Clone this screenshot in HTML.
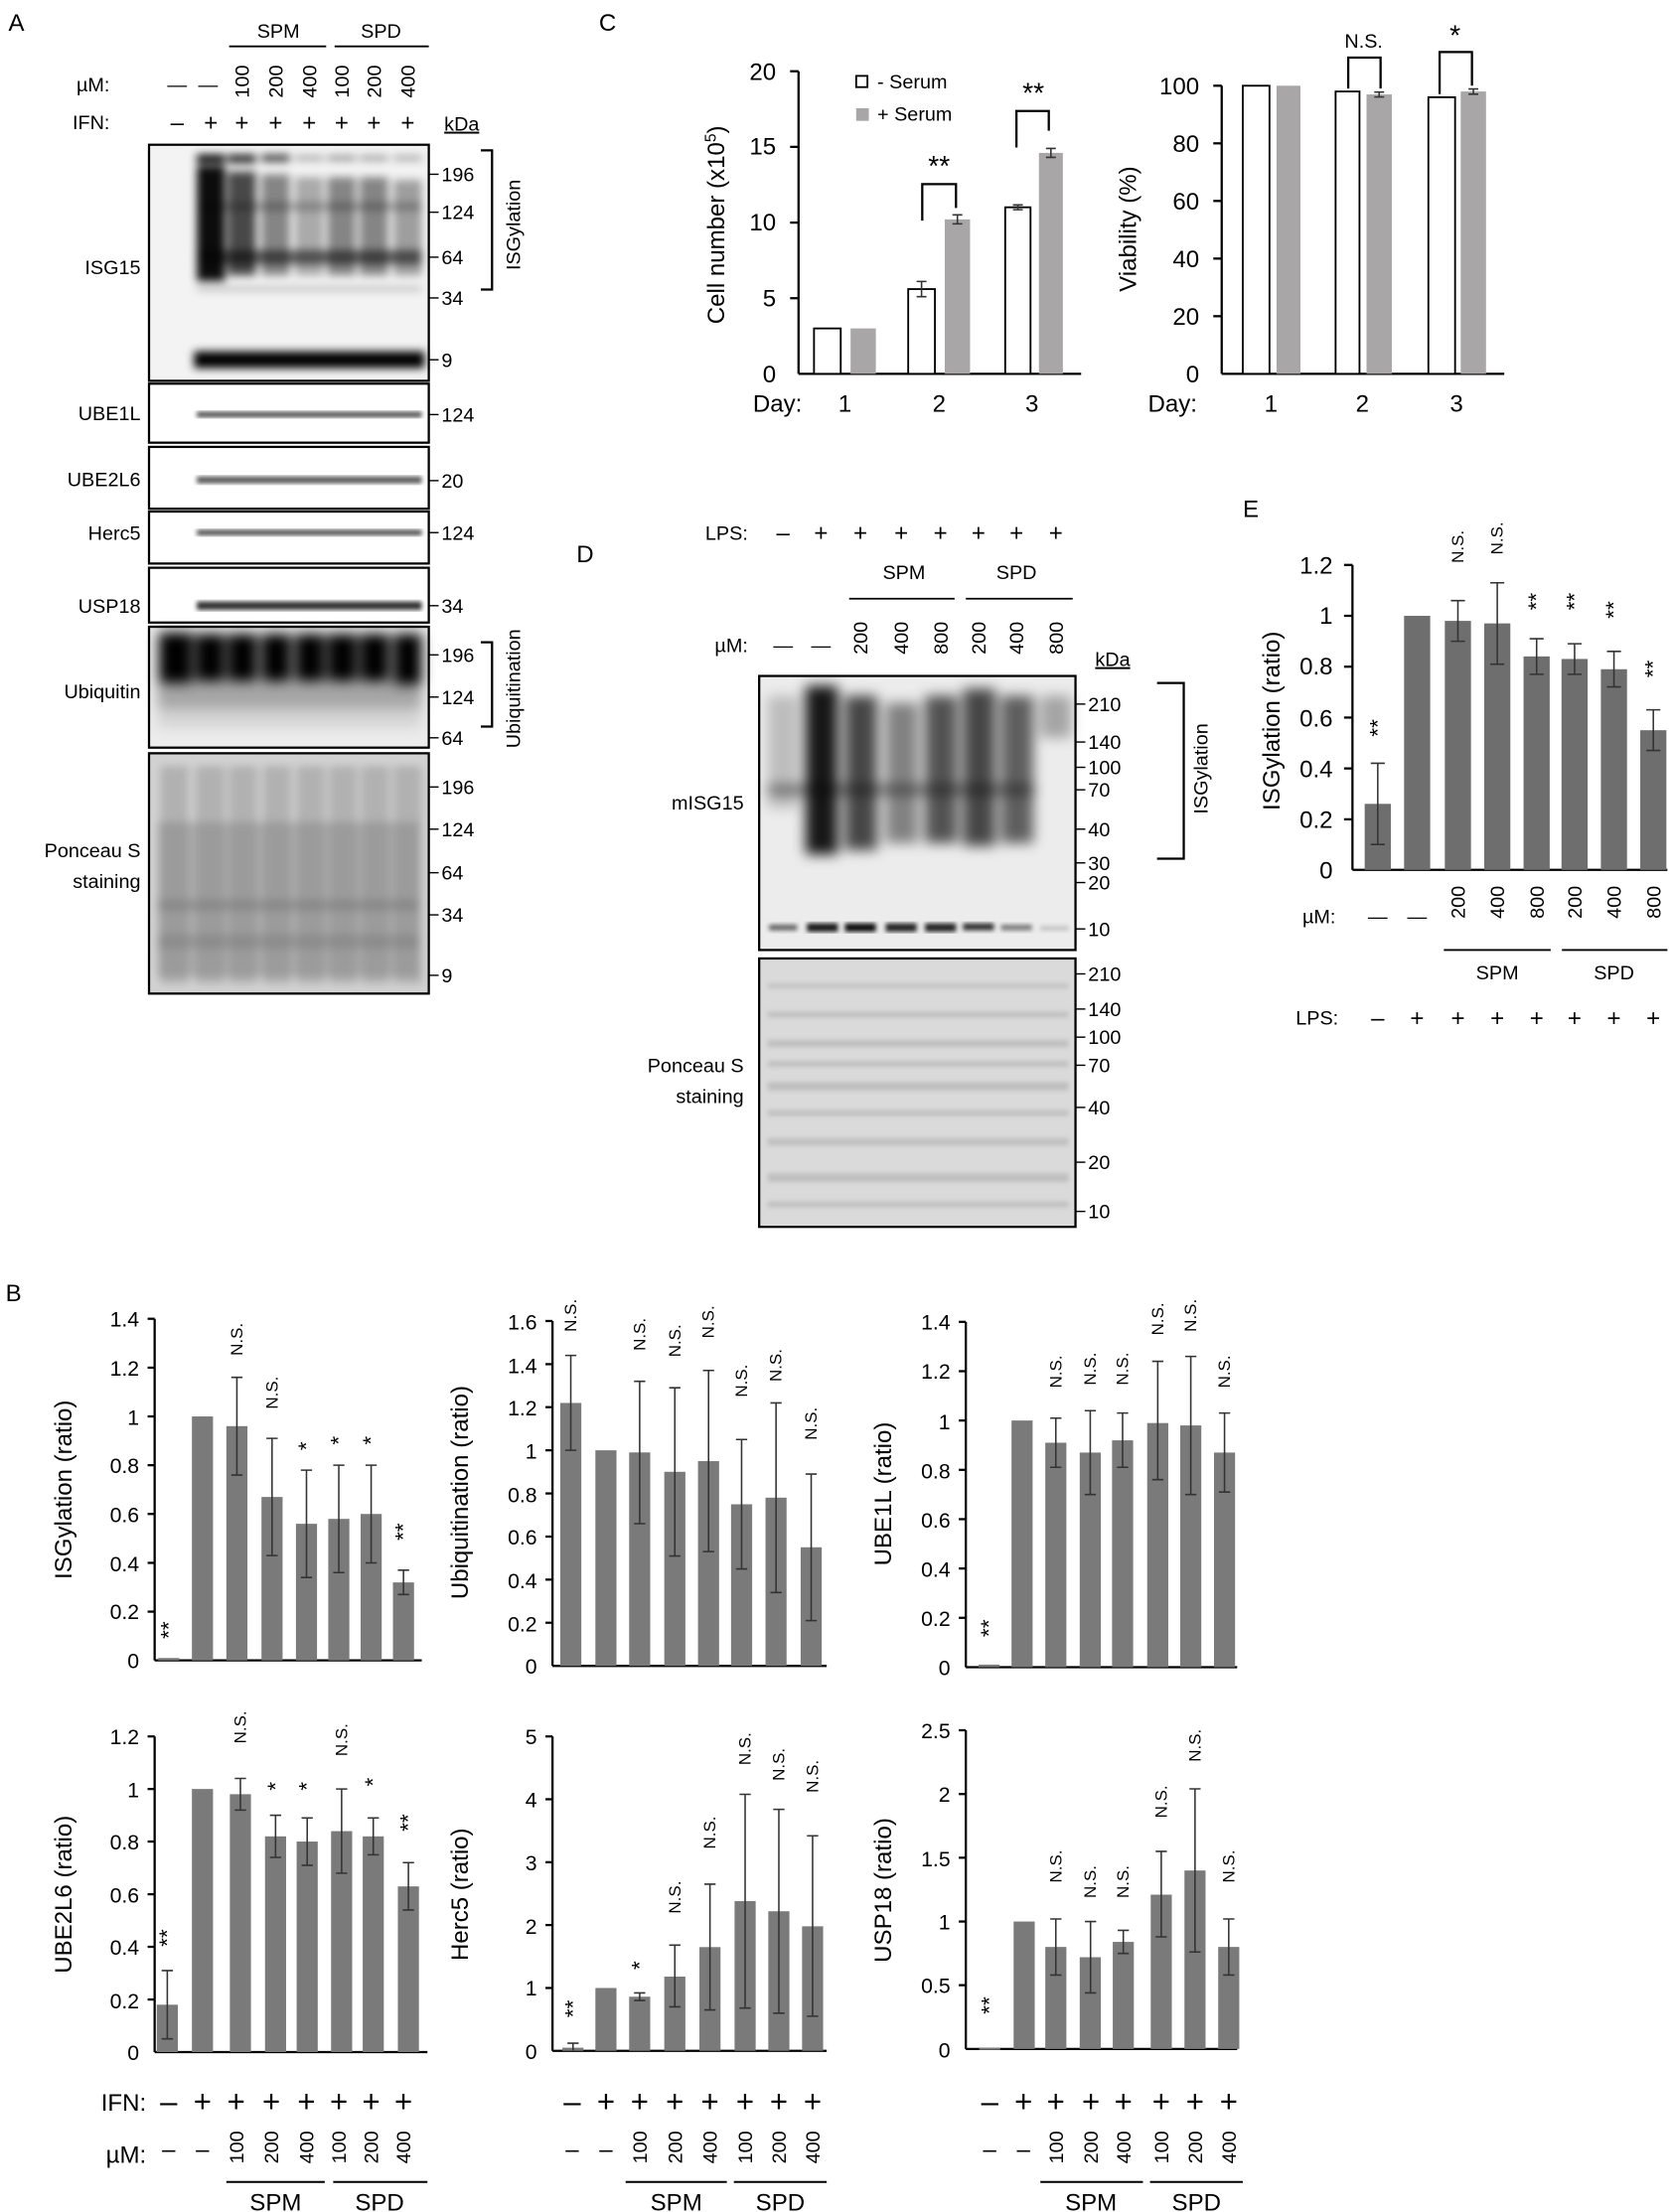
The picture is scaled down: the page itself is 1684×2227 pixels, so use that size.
<!DOCTYPE html>
<html><head><meta charset="utf-8"><style>
html,body{margin:0;padding:0;background:#fff;}
svg{display:block;}
text{font-family:"Liberation Sans",sans-serif;fill:#000;}
.t{font-size:14px;}
.m{font-size:14px;}
.tk{font-size:15px;}
.an{font-size:12px;}
.st{font-size:17px;}
.ax{stroke:#000;stroke-width:1.6;fill:none;}
.eb{stroke:#333;stroke-width:1.1;fill:none;}
.bB{fill:#7a7a7a;}
.bE{fill:#6e6e6e;}
</style></head><body>
<svg width="1684" height="2227" viewBox="0 0 1190 1574" preserveAspectRatio="none" xmlns="http://www.w3.org/2000/svg">
<defs>
<filter id="f1" x="-20%" y="-20%" width="140%" height="140%"><feGaussianBlur stdDeviation="1.6"/></filter>
<filter id="f2" x="-20%" y="-20%" width="140%" height="140%"><feGaussianBlur stdDeviation="3"/></filter>
<filter id="f3" x="-30%" y="-30%" width="160%" height="160%"><feGaussianBlur stdDeviation="4.5"/></filter>
</defs>

<!-- ================= PANEL A ================= -->
<text x="6" y="22" style="font-size:17px">A</text>
<text x="198" y="27" class="t" text-anchor="middle">SPM</text>
<line x1="163" y1="33" x2="232" y2="33" stroke="#000" stroke-width="1.3"/>
<text x="271" y="27" class="t" text-anchor="middle">SPD</text>
<line x1="238" y1="33" x2="305" y2="33" stroke="#000" stroke-width="1.3"/>
<text x="78" y="65" class="t" text-anchor="end">µM:</text>
<text x="126" y="65" class="t" text-anchor="middle">—</text>
<text x="148" y="65" class="t" text-anchor="middle">—</text>
<g class="t" text-anchor="middle">
<text transform="translate(177,58) rotate(-90)">100</text>
<text transform="translate(201,58) rotate(-90)">200</text>
<text transform="translate(225,58) rotate(-90)">400</text>
<text transform="translate(248,58) rotate(-90)">100</text>
<text transform="translate(271,58) rotate(-90)">200</text>
<text transform="translate(295,58) rotate(-90)">400</text>
</g>
<text x="78" y="92" class="t" text-anchor="end">IFN:</text>
<g class="t" text-anchor="middle" style="font-size:17px">
<text x="126" y="93">–</text><text x="150" y="93">+</text><text x="172" y="93">+</text><text x="196" y="93">+</text><text x="220" y="93">+</text><text x="243" y="93">+</text><text x="266" y="93">+</text><text x="290" y="93">+</text>
</g>
<text x="316" y="93" class="t" style="text-decoration:underline">kDa</text>

<!-- ISG15 blot -->
<rect x="106" y="103" width="199" height="168" fill="#f3f3f3"/>
<g filter="url(#f2)">
<rect x="140" y="110" width="20" height="6" fill="#000"/>
<rect x="162" y="110" width="20" height="6" fill="#000" opacity=".85"/>
<rect x="186" y="110" width="20" height="5" fill="#000" opacity=".75"/>
<rect x="210" y="111" width="20" height="3" fill="#000" opacity=".4"/>
<rect x="233" y="111" width="20" height="3" fill="#000" opacity=".5"/>
<rect x="256" y="111" width="20" height="3" fill="#000" opacity=".45"/>
<rect x="280" y="111" width="20" height="3" fill="#000" opacity=".4"/>
<rect x="140" y="118" width="20" height="82" fill="#000" opacity=".95"/>
<rect x="162" y="122" width="20" height="74" fill="#000" opacity=".7"/>
<rect x="186" y="124" width="20" height="72" fill="#000" opacity=".45"/>
<rect x="210" y="126" width="20" height="70" fill="#000" opacity=".3"/>
<rect x="233" y="126" width="20" height="70" fill="#000" opacity=".45"/>
<rect x="256" y="126" width="20" height="70" fill="#000" opacity=".45"/>
<rect x="280" y="128" width="20" height="68" fill="#000" opacity=".35"/>
<rect x="140" y="178" width="160" height="10" fill="#000" opacity=".55"/>
<rect x="140" y="144" width="160" height="6" fill="#000" opacity=".25"/>
<rect x="140" y="204" width="160" height="3" fill="#000" opacity=".25"/>
<rect x="138" y="250" width="164" height="12" fill="#000"/>
</g>
<rect x="106" y="103" width="199" height="168" class="ax"/>
<text x="100" y="195" class="t" text-anchor="end">ISG15</text>
<g class="m">
<line x1="305" y1="124" x2="312" y2="124" stroke="#000"/><text x="314" y="129">196</text>
<line x1="305" y1="151" x2="312" y2="151" stroke="#000"/><text x="314" y="156">124</text>
<line x1="305" y1="183" x2="312" y2="183" stroke="#000"/><text x="314" y="188">64</text>
<line x1="305" y1="212" x2="312" y2="212" stroke="#000"/><text x="314" y="217">34</text>
<line x1="305" y1="256" x2="312" y2="256" stroke="#000"/><text x="314" y="261">9</text>
</g>
<polyline points="342,107 350,107 350,206 342,206" class="ax" stroke-width="1.2"/>
<text transform="translate(370,160) rotate(-90)" class="t" text-anchor="middle">ISGylation</text>

<!-- UBE1L -->
<rect x="106" y="273" width="199" height="42" fill="#f2f2f2" class="ax"/>
<rect x="140" y="293" width="160" height="4" fill="#000" opacity=".7" filter="url(#f1)"/>
<text x="100" y="299" class="t" text-anchor="end">UBE1L</text>
<line x1="305" y1="295" x2="312" y2="295" stroke="#000"/><text x="314" y="300" class="m">124</text>
<!-- UBE2L6 -->
<rect x="106" y="318" width="199" height="44" fill="#f2f2f2" class="ax"/>
<rect x="140" y="339" width="160" height="5" fill="#000" opacity=".65" filter="url(#f1)"/>
<text x="100" y="346" class="t" text-anchor="end">UBE2L6</text>
<line x1="305" y1="342" x2="312" y2="342" stroke="#000"/><text x="314" y="347" class="m">20</text>
<!-- Herc5 -->
<rect x="106" y="364" width="199" height="37" fill="#e2e2e2" class="ax"/>
<rect x="140" y="377" width="160" height="4" fill="#000" opacity=".7" filter="url(#f1)"/>
<text x="100" y="384" class="t" text-anchor="end">Herc5</text>
<line x1="305" y1="379" x2="312" y2="379" stroke="#000"/><text x="314" y="384" class="m">124</text>
<!-- USP18 -->
<rect x="106" y="404" width="199" height="39" fill="#f2f2f2" class="ax"/>
<rect x="140" y="428" width="160" height="6" fill="#000" opacity=".8" filter="url(#f1)"/>
<text x="100" y="436" class="t" text-anchor="end">USP18</text>
<line x1="305" y1="431" x2="312" y2="431" stroke="#000"/><text x="314" y="436" class="m">34</text>
<!-- Ubiquitin -->
<rect x="106" y="446" width="199" height="86" fill="#ececec"/>
<g filter="url(#f3)">
<rect x="113" y="450" width="24" height="36" fill="#000"/>
<rect x="139" y="451" width="21" height="34" fill="#000"/>
<rect x="162" y="451" width="21" height="34" fill="#000"/>
<rect x="186" y="451" width="21" height="34" fill="#000"/>
<rect x="210" y="451" width="21" height="34" fill="#000"/>
<rect x="233" y="451" width="21" height="34" fill="#000"/>
<rect x="256" y="451" width="21" height="34" fill="#000"/>
<rect x="280" y="451" width="20" height="36" fill="#000"/>
<rect x="112" y="486" width="188" height="18" fill="#000" opacity=".3"/>
<rect x="112" y="504" width="188" height="14" fill="#000" opacity=".1"/>
</g>
<rect x="106" y="446" width="199" height="86" class="ax"/>
<text x="100" y="497" class="t" text-anchor="end">Ubiquitin</text>
<g class="m">
<line x1="305" y1="466" x2="312" y2="466" stroke="#000"/><text x="314" y="471">196</text>
<line x1="305" y1="496" x2="312" y2="496" stroke="#000"/><text x="314" y="501">124</text>
<line x1="305" y1="525" x2="312" y2="525" stroke="#000"/><text x="314" y="530">64</text>
</g>
<polyline points="342,457 350,457 350,517 342,517" class="ax" stroke-width="1.2"/>
<text transform="translate(370,490) rotate(-90)" class="t" text-anchor="middle">Ubiquitination</text>
<!-- Ponceau A -->
<rect x="106" y="536" width="199" height="171" fill="#d2d2d2"/>
<g filter="url(#f2)">
<rect x="114" y="545" width="20" height="155" fill="#8a8a8a" opacity=".45"/>
<rect x="139" y="545" width="21" height="155" fill="#8a8a8a" opacity=".45"/>
<rect x="163" y="545" width="20" height="155" fill="#8a8a8a" opacity=".45"/>
<rect x="187" y="545" width="20" height="155" fill="#8a8a8a" opacity=".45"/>
<rect x="211" y="545" width="20" height="155" fill="#8a8a8a" opacity=".45"/>
<rect x="234" y="545" width="20" height="155" fill="#8a8a8a" opacity=".45"/>
<rect x="257" y="545" width="20" height="155" fill="#8a8a8a" opacity=".45"/>
<rect x="280" y="545" width="20" height="155" fill="#8a8a8a" opacity=".45"/>
<rect x="112" y="585" width="186" height="110" fill="#7a7a7a" opacity=".4"/>
<rect x="112" y="640" width="186" height="8" fill="#666" opacity=".35"/>
<rect x="112" y="665" width="186" height="10" fill="#666" opacity=".3"/>
</g>
<rect x="106" y="536" width="199" height="171" class="ax"/>
<text x="100" y="610" class="t" text-anchor="end">Ponceau S</text>
<text x="100" y="632" class="t" text-anchor="end">staining</text>
<g class="m">
<line x1="305" y1="560" x2="312" y2="560" stroke="#000"/><text x="314" y="565">196</text>
<line x1="305" y1="590" x2="312" y2="590" stroke="#000"/><text x="314" y="595">124</text>
<line x1="305" y1="621" x2="312" y2="621" stroke="#000"/><text x="314" y="626">64</text>
<line x1="305" y1="651" x2="312" y2="651" stroke="#000"/><text x="314" y="656">34</text>
<line x1="305" y1="694" x2="312" y2="694" stroke="#000"/><text x="314" y="699">9</text>
</g>

<!-- ================= PANEL C ================= -->
<text x="426" y="22" style="font-size:17px">C</text>
<g class="st" text-anchor="end">
<text x="552" y="57">20</text><text x="552" y="110">15</text><text x="552" y="164">10</text><text x="552" y="218">5</text><text x="552" y="272">0</text>
</g>
<g class="ax">
<line x1="568" y1="50.7" x2="568" y2="266"/><line x1="568" y1="266" x2="769" y2="266"/>
<line x1="562" y1="50.7" x2="568" y2="50.7"/><line x1="562" y1="104.5" x2="568" y2="104.5"/><line x1="562" y1="158.4" x2="568" y2="158.4"/><line x1="562" y1="212.2" x2="568" y2="212.2"/>
</g>
<rect x="579" y="233.7" width="19" height="32.3" fill="#fff" stroke="#000" stroke-width="1.3"/>
<rect x="605" y="233.7" width="18" height="32.3" fill="#a8a6a6"/>
<rect x="646" y="205.7" width="19" height="60.3" fill="#fff" stroke="#000" stroke-width="1.3"/>
<rect x="672" y="156.1" width="18" height="109.9" fill="#a8a6a6"/>
<rect x="715" y="147.5" width="18" height="118.5" fill="#fff" stroke="#000" stroke-width="1.3"/>
<rect x="739" y="108.8" width="17" height="157.2" fill="#a8a6a6"/>
<g class="eb">
<path d="M655.5 200.3V211.1M652 200.3h7M652 211.1h7"/>
<path d="M681 152.9V159.3M677.5 152.9h7M677.5 159.3h7"/>
<path d="M724 145.8V149.2M720.5 145.8h7M720.5 149.2h7"/>
<path d="M747.5 105.6V112M744 105.6h7M744 112h7"/>
</g>
<polyline points="656,157 656,131 680,131 680,148" class="ax" stroke-width="1.2"/>
<text x="668" y="125" style="font-size:20px" text-anchor="middle">**</text>
<polyline points="723,105 723,79 746,79 746,93" class="ax" stroke-width="1.2"/>
<text x="735" y="73" style="font-size:20px" text-anchor="middle">**</text>
<rect x="609" y="54" width="8" height="8" fill="#fff" stroke="#000" stroke-width="1.3"/>
<text x="624" y="63" class="t">- Serum</text>
<rect x="609" y="77" width="9" height="9" fill="#a8a6a6"/>
<text x="624" y="86" class="t">+ Serum</text>
<text transform="translate(515,160) rotate(-90)" class="st" text-anchor="middle">Cell number (x10<tspan dy="-6" style="font-size:11px">5</tspan><tspan dy="6">)</tspan></text>
<g class="st" text-anchor="middle">
<text x="553" y="293">Day:</text><text x="601" y="293">1</text><text x="668" y="293">2</text><text x="734" y="293">3</text>
</g>
<g class="st" text-anchor="end">
<text x="853" y="67">100</text><text x="853" y="108">80</text><text x="853" y="149">60</text><text x="853" y="190">40</text><text x="853" y="231">20</text><text x="853" y="272">0</text>
</g>
<g class="ax">
<line x1="869" y1="61" x2="869" y2="266"/><line x1="869" y1="266" x2="1070" y2="266"/>
<line x1="863" y1="61" x2="869" y2="61"/><line x1="863" y1="102" x2="869" y2="102"/><line x1="863" y1="143" x2="869" y2="143"/><line x1="863" y1="184" x2="869" y2="184"/><line x1="863" y1="225" x2="869" y2="225"/>
</g>
<rect x="884" y="61" width="19" height="205" fill="#fff" stroke="#000" stroke-width="1.3"/>
<rect x="908" y="61" width="17" height="205" fill="#a8a6a6"/>
<rect x="950" y="65.1" width="17" height="200.9" fill="#fff" stroke="#000" stroke-width="1.3"/>
<rect x="972" y="67.2" width="18" height="198.8" fill="#a8a6a6"/>
<rect x="1016" y="69.2" width="19" height="196.8" fill="#fff" stroke="#000" stroke-width="1.3"/>
<rect x="1039" y="65.1" width="18" height="200.9" fill="#a8a6a6"/>
<g class="eb">
<path d="M981 65.5V69M977.5 65.5h7M977.5 69h7"/>
<path d="M1048 63.3V67M1044.5 63.3h7M1044.5 67h7"/>
</g>
<polyline points="959,63 959,41 982,41 982,63" class="ax" stroke-width="1.2"/>
<text x="970" y="34" class="t" text-anchor="middle">N.S.</text>
<polyline points="1024,67 1024,37 1047,37 1047,61" class="ax" stroke-width="1.2"/>
<text x="1035" y="32" style="font-size:20px" text-anchor="middle">*</text>
<text transform="translate(808,163) rotate(-90)" class="st" text-anchor="middle">Viability (%)</text>
<g class="st" text-anchor="middle">
<text x="834" y="293">Day:</text><text x="904" y="293">1</text><text x="969" y="293">2</text><text x="1036" y="293">3</text>
</g>

<!-- ================= PANEL D ================= -->
<text x="410" y="400" style="font-size:17px">D</text>
<text x="532" y="384" class="t" text-anchor="end">LPS:</text>
<g class="t" text-anchor="middle" style="font-size:17px">
<text x="557" y="385">–</text><text x="584" y="385">+</text><text x="612" y="385">+</text><text x="641" y="385">+</text><text x="669" y="385">+</text><text x="696" y="385">+</text><text x="723" y="385">+</text><text x="751" y="385">+</text>
</g>
<text x="643" y="412" class="t" text-anchor="middle">SPM</text>
<line x1="604" y1="426" x2="679" y2="426" stroke="#000" stroke-width="1.3"/>
<text x="723" y="412" class="t" text-anchor="middle">SPD</text>
<line x1="687" y1="426" x2="763" y2="426" stroke="#000" stroke-width="1.3"/>
<text x="532" y="464" class="t" text-anchor="end">µM:</text>
<text x="557" y="464" class="t" text-anchor="middle">—</text>
<text x="584" y="464" class="t" text-anchor="middle">—</text>
<g class="t" text-anchor="middle">
<text transform="translate(617,454) rotate(-90)">200</text>
<text transform="translate(646,454) rotate(-90)">400</text>
<text transform="translate(674,454) rotate(-90)">800</text>
<text transform="translate(701,454) rotate(-90)">200</text>
<text transform="translate(728,454) rotate(-90)">400</text>
<text transform="translate(756,454) rotate(-90)">800</text>
</g>
<text x="779" y="474" class="t" style="text-decoration:underline">kDa</text>
<rect x="540" y="481" width="225" height="195" fill="#ececec"/>
<g filter="url(#f3)">
<rect x="546" y="495" width="22" height="80" fill="#000" opacity=".2"/>
<rect x="573" y="488" width="23" height="120" fill="#000" opacity=".9"/>
<rect x="601" y="495" width="23" height="110" fill="#000" opacity=".7"/>
<rect x="630" y="500" width="23" height="100" fill="#000" opacity=".45"/>
<rect x="658" y="495" width="23" height="105" fill="#000" opacity=".65"/>
<rect x="685" y="490" width="23" height="112" fill="#000" opacity=".7"/>
<rect x="712" y="495" width="23" height="105" fill="#000" opacity=".6"/>
<rect x="740" y="495" width="22" height="30" fill="#000" opacity=".3"/>
<rect x="546" y="559" width="190" height="6" fill="#000" opacity=".5"/>
</g>
<g filter="url(#f1)">
<rect x="547" y="658" width="20" height="4" fill="#000" opacity=".6"/>
<rect x="574" y="657" width="22" height="6" fill="#000" opacity=".9"/>
<rect x="601" y="657" width="22" height="6" fill="#000" opacity=".95"/>
<rect x="630" y="657" width="22" height="6" fill="#000" opacity=".85"/>
<rect x="658" y="657" width="22" height="6" fill="#000" opacity=".85"/>
<rect x="685" y="657" width="22" height="5" fill="#000" opacity=".8"/>
<rect x="712" y="658" width="22" height="4" fill="#000" opacity=".5"/>
<rect x="740" y="659" width="20" height="3" fill="#000" opacity=".2"/>
</g>
<rect x="540" y="481" width="225" height="195" class="ax"/>
<text x="529" y="576" class="t" text-anchor="end">mISG15</text>
<g class="m">
<line x1="765" y1="501" x2="772" y2="501" stroke="#000"/><text x="774" y="506">210</text>
<line x1="765" y1="528" x2="772" y2="528" stroke="#000"/><text x="774" y="533">140</text>
<line x1="765" y1="546" x2="772" y2="546" stroke="#000"/><text x="774" y="551">100</text>
<line x1="765" y1="562" x2="772" y2="562" stroke="#000"/><text x="774" y="567">70</text>
<line x1="765" y1="590" x2="772" y2="590" stroke="#000"/><text x="774" y="595">40</text>
<line x1="765" y1="614" x2="772" y2="614" stroke="#000"/><text x="774" y="619">30</text>
<line x1="765" y1="628" x2="772" y2="628" stroke="#000"/><text x="774" y="633">20</text>
<line x1="765" y1="661" x2="772" y2="661" stroke="#000"/><text x="774" y="666">10</text>
</g>
<polyline points="823,486 842,486 842,611 823,611" class="ax" stroke-width="1.2"/>
<text transform="translate(859,547) rotate(-90)" class="t" text-anchor="middle">ISGylation</text>
<rect x="540" y="682" width="225" height="191" fill="#dadada"/>
<g filter="url(#f1)" fill="#a8a8a8" opacity=".55">
<rect x="546" y="700" width="214" height="3"/><rect x="546" y="720" width="214" height="4"/><rect x="546" y="740" width="214" height="5"/>
<rect x="546" y="755" width="214" height="4"/><rect x="546" y="770" width="214" height="6"/><rect x="546" y="790" width="214" height="4"/>
<rect x="546" y="810" width="214" height="5"/><rect x="546" y="835" width="214" height="6"/><rect x="546" y="855" width="214" height="4"/>
</g>
<rect x="540" y="682" width="225" height="191" class="ax"/>
<text x="529" y="763" class="t" text-anchor="end">Ponceau S</text>
<text x="529" y="785" class="t" text-anchor="end">staining</text>
<g class="m">
<line x1="765" y1="693" x2="772" y2="693" stroke="#000"/><text x="774" y="698">210</text>
<line x1="765" y1="718" x2="772" y2="718" stroke="#000"/><text x="774" y="723">140</text>
<line x1="765" y1="738" x2="772" y2="738" stroke="#000"/><text x="774" y="743">100</text>
<line x1="765" y1="758" x2="772" y2="758" stroke="#000"/><text x="774" y="763">70</text>
<line x1="765" y1="788" x2="772" y2="788" stroke="#000"/><text x="774" y="793">40</text>
<line x1="765" y1="827" x2="772" y2="827" stroke="#000"/><text x="774" y="832">20</text>
<line x1="765" y1="862" x2="772" y2="862" stroke="#000"/><text x="774" y="867">10</text>
</g>

<!-- ================= PANEL E ================= -->
<text x="884" y="368" style="font-size:17px">E</text>
<g class="st" text-anchor="end">
<text x="948" y="408">1.2</text><text x="948" y="444">1</text><text x="948" y="480">0.8</text><text x="948" y="517">0.6</text><text x="948" y="553">0.4</text><text x="948" y="589">0.2</text><text x="948" y="625">0</text>
</g>
<g class="ax">
<line x1="962" y1="402" x2="962" y2="619"/><line x1="962" y1="619" x2="1186" y2="619"/>
<line x1="956" y1="402" x2="962" y2="402"/><line x1="956" y1="438.2" x2="962" y2="438.2"/><line x1="956" y1="474.4" x2="962" y2="474.4"/><line x1="956" y1="510.6" x2="962" y2="510.6"/><line x1="956" y1="546.8" x2="962" y2="546.8"/><line x1="956" y1="583" x2="962" y2="583"/>
</g>
<g class="bE">
<rect x="970.7" y="572" width="18.6" height="47"/>
<rect x="998.7" y="438.2" width="18.6" height="180.8"/>
<rect x="1027.7" y="441.8" width="18.6" height="177.2"/>
<rect x="1055.7" y="443.6" width="18.6" height="175.4"/>
<rect x="1083.7" y="467.1" width="18.6" height="151.9"/>
<rect x="1110.7" y="468.9" width="18.6" height="150.1"/>
<rect x="1138.7" y="476.2" width="18.6" height="142.8"/>
<rect x="1166.7" y="519.6" width="18.6" height="99.4"/>
</g>
<g class="eb">
<path d="M980 543.1V600.9M975 543.1h10M975 600.9h10"/>
<path d="M1037 427.4V456.3M1032 427.4h10M1032 456.3h10"/>
<path d="M1065 414.7V472.6M1060 414.7h10M1060 472.6h10"/>
<path d="M1093 454.5V479.8M1088 454.5h10M1088 479.8h10"/>
<path d="M1120 458.1V479.8M1115 458.1h10M1115 479.8h10"/>
<path d="M1148 463.5V488.8M1143 463.5h10M1143 488.8h10"/>
<path d="M1176 505.1V534M1171 505.1h10M1171 534h10"/>
</g>
<g class="an" text-anchor="middle" dominant-baseline="central">
<text transform="translate(980,518) rotate(-90)" style="font-size:16px">**</text>
<text transform="translate(1037,389) rotate(-90)">N.S.</text>
<text transform="translate(1065,383) rotate(-90)">N.S.</text>
<text transform="translate(1093,428) rotate(-90)" style="font-size:16px">**</text>
<text transform="translate(1120,428) rotate(-90)" style="font-size:16px">**</text>
<text transform="translate(1148,434) rotate(-90)" style="font-size:16px">**</text>
<text transform="translate(1176,476) rotate(-90)" style="font-size:16px">**</text>
</g>
<text transform="translate(910,513) rotate(-90)" class="st" text-anchor="middle">ISGylation (ratio)</text>
<text x="950" y="657" class="t" text-anchor="end">µM:</text>
<text x="980" y="657" class="t" text-anchor="middle">—</text>
<text x="1008" y="657" class="t" text-anchor="middle">—</text>
<g class="t" text-anchor="middle">
<text transform="translate(1042,642) rotate(-90)">200</text>
<text transform="translate(1070,642) rotate(-90)">400</text>
<text transform="translate(1098,642) rotate(-90)">800</text>
<text transform="translate(1125,642) rotate(-90)">200</text>
<text transform="translate(1153,642) rotate(-90)">400</text>
<text transform="translate(1181,642) rotate(-90)">800</text>
</g>
<line x1="1027" y1="676" x2="1103" y2="676" stroke="#000" stroke-width="1.3"/>
<line x1="1111" y1="676" x2="1186" y2="676" stroke="#000" stroke-width="1.3"/>
<text x="1065" y="697" class="t" text-anchor="middle">SPM</text>
<text x="1148" y="697" class="t" text-anchor="middle">SPD</text>
<text x="952" y="729" class="t" text-anchor="end">LPS:</text>
<g class="t" text-anchor="middle" style="font-size:17px">
<text x="980" y="730">–</text><text x="1008" y="730">+</text><text x="1037" y="730">+</text><text x="1065" y="730">+</text><text x="1093" y="730">+</text><text x="1120" y="730">+</text><text x="1148" y="730">+</text><text x="1176" y="730">+</text>
</g>

<!-- ================= PANEL B ================= -->
<text x="4" y="926" style="font-size:17px">B</text>

<g class="tk" text-anchor="end">
<text x="99" y="944">1.4</text><text x="99" y="979">1.2</text><text x="99" y="1014">1</text><text x="99" y="1048">0.8</text><text x="99" y="1083">0.6</text><text x="99" y="1118">0.4</text><text x="99" y="1152">0.2</text><text x="99" y="1187">0</text>
</g>
<g class="ax">
<line x1="110" y1="938.4" x2="110" y2="1181.5"/><line x1="110" y1="1181.5" x2="300" y2="1181.5"/>
<line x1="105" y1="938.4" x2="110" y2="938.4"/><line x1="105" y1="973.2" x2="110" y2="973.2"/><line x1="105" y1="1007.9" x2="110" y2="1007.9"/><line x1="105" y1="1042.6" x2="110" y2="1042.6"/><line x1="105" y1="1077.3" x2="110" y2="1077.3"/><line x1="105" y1="1112.1" x2="110" y2="1112.1"/><line x1="105" y1="1146.8" x2="110" y2="1146.8"/>
</g>
<g class="bB">
<rect x="112.5" y="1179.8" width="15" height="1.7"/>
<rect x="136.5" y="1007.9" width="15" height="173.6"/>
<rect x="161" y="1014.8" width="15" height="166.7"/>
<rect x="186" y="1065.2" width="15" height="116.3"/>
<rect x="210.5" y="1084.3" width="15" height="97.2"/>
<rect x="233.5" y="1080.8" width="15" height="100.7"/>
<rect x="256.5" y="1077.3" width="15" height="104.2"/>
<rect x="279.5" y="1126" width="15" height="55.5"/>
</g>
<g class="eb">
<path d="M168.5 980.1V1049.6M164.5 980.1h8M164.5 1049.6h8"/>
<path d="M193.5 1023.5V1106.9M189.5 1023.5h8M189.5 1106.9h8"/>
<path d="M218 1046.1V1122.5M214 1046.1h8M214 1122.5h8"/>
<path d="M241 1042.6V1119M237 1042.6h8M237 1119h8"/>
<path d="M264 1042.6V1112.1M260 1042.6h8M260 1112.1h8"/>
<path d="M287 1117.3V1134.6M283 1117.3h8M283 1134.6h8"/>
</g>
<g class="an" text-anchor="middle" dominant-baseline="central">
<text transform="translate(120,1160) rotate(-90)" style="font-size:16px">**</text>
<text transform="translate(168.5,953) rotate(-90)">N.S.</text>
<text transform="translate(193.5,991) rotate(-90)">N.S.</text>
<text transform="translate(218,1029) rotate(-90)" style="font-size:16px">*</text>
<text transform="translate(241,1025) rotate(-90)" style="font-size:16px">*</text>
<text transform="translate(264,1025) rotate(-90)" style="font-size:16px">*</text>
<text transform="translate(287,1090) rotate(-90)" style="font-size:16px">**</text>
</g>
<text transform="translate(51,1060) rotate(-90)" class="st" text-anchor="middle">ISGylation  (ratio)</text>

<g class="tk" text-anchor="end">
<text x="382" y="946">1.6</text><text x="382" y="977">1.4</text><text x="382" y="1007">1.2</text><text x="382" y="1038">1</text><text x="382" y="1069">0.8</text><text x="382" y="1099">0.6</text><text x="382" y="1130">0.4</text><text x="382" y="1161">0.2</text><text x="382" y="1191">0</text>
</g>
<g class="ax">
<line x1="393" y1="940" x2="393" y2="1185.4"/><line x1="393" y1="1185.4" x2="588" y2="1185.4"/>
<line x1="388" y1="940" x2="393" y2="940"/><line x1="388" y1="970.7" x2="393" y2="970.7"/><line x1="388" y1="1001.3" x2="393" y2="1001.3"/><line x1="388" y1="1032" x2="393" y2="1032"/><line x1="388" y1="1062.7" x2="393" y2="1062.7"/><line x1="388" y1="1093.4" x2="393" y2="1093.4"/><line x1="388" y1="1124" x2="393" y2="1124"/><line x1="388" y1="1154.7" x2="393" y2="1154.7"/>
</g>
<g class="bB">
<rect x="398.5" y="998.3" width="15" height="187.1"/>
<rect x="423.5" y="1032" width="15" height="153.4"/>
<rect x="447.5" y="1033.5" width="15" height="151.9"/>
<rect x="472.5" y="1047.3" width="15" height="138.1"/>
<rect x="496.5" y="1039.7" width="15" height="145.7"/>
<rect x="520" y="1070.4" width="15" height="115"/>
<rect x="544.5" y="1065.7" width="15" height="119.7"/>
<rect x="569.5" y="1101" width="15" height="84.4"/>
</g>
<g class="eb">
<path d="M406 964.5V1032M402 964.5h8M402 1032h8"/>
<path d="M455 982.9V1084.2M451 982.9h8M451 1084.2h8"/>
<path d="M480 987.5V1107.2M476 987.5h8M476 1107.2h8"/>
<path d="M504 975.2V1104.1M500 975.2h8M500 1104.1h8"/>
<path d="M527.5 1024.3V1116.4M523.5 1024.3h8M523.5 1116.4h8"/>
<path d="M552 998.3V1133.2M548 998.3h8M548 1133.2h8"/>
<path d="M577 1048.9V1153.2M573 1048.9h8M573 1153.2h8"/>
</g>
<g class="an" text-anchor="middle" dominant-baseline="central">
<text transform="translate(406,936) rotate(-90)">N.S.</text>
<text transform="translate(455,949.5) rotate(-90)">N.S.</text>
<text transform="translate(480,954) rotate(-90)">N.S.</text>
<text transform="translate(504,940.6) rotate(-90)">N.S.</text>
<text transform="translate(527.5,982.5) rotate(-90)">N.S.</text>
<text transform="translate(552,971.5) rotate(-90)">N.S.</text>
<text transform="translate(577,1013) rotate(-90)">N.S.</text>
</g>
<text transform="translate(333,1062) rotate(-90)" class="st" text-anchor="middle">Ubiquitination  (ratio)</text>

<g class="tk" text-anchor="end">
<text x="676" y="946">1.4</text><text x="676" y="981">1.2</text><text x="676" y="1017">1</text><text x="676" y="1052">0.8</text><text x="676" y="1087">0.6</text><text x="676" y="1122">0.4</text><text x="676" y="1157">0.2</text><text x="676" y="1192">0</text>
</g>
<g class="ax">
<line x1="687" y1="940.6" x2="687" y2="1186.3"/><line x1="687" y1="1186.3" x2="880" y2="1186.3"/>
<line x1="682" y1="940.6" x2="687" y2="940.6"/><line x1="682" y1="975.7" x2="687" y2="975.7"/><line x1="682" y1="1010.8" x2="687" y2="1010.8"/><line x1="682" y1="1045.9" x2="687" y2="1045.9"/><line x1="682" y1="1081" x2="687" y2="1081"/><line x1="682" y1="1116.1" x2="687" y2="1116.1"/><line x1="682" y1="1151.2" x2="687" y2="1151.2"/>
</g>
<g class="bB">
<rect x="696" y="1184.5" width="15" height="1.8"/>
<rect x="719.5" y="1010.8" width="15" height="175.5"/>
<rect x="743.5" y="1026.6" width="15" height="159.7"/>
<rect x="768" y="1033.6" width="15" height="152.7"/>
<rect x="791" y="1024.9" width="15" height="161.4"/>
<rect x="816" y="1012.6" width="15" height="173.7"/>
<rect x="839.5" y="1014.3" width="15" height="172"/>
<rect x="863.5" y="1033.6" width="15" height="152.7"/>
</g>
<g class="eb">
<path d="M751 1009.1V1044.1M747 1009.1h8M747 1044.1h8"/>
<path d="M775.5 1003.8V1063.5M771.5 1003.8h8M771.5 1063.5h8"/>
<path d="M798.5 1005.5V1044.1M794.5 1005.5h8M794.5 1044.1h8"/>
<path d="M823.5 968.7V1052.9M819.5 968.7h8M819.5 1052.9h8"/>
<path d="M847 965.2V1063.5M843 965.2h8M843 1063.5h8"/>
<path d="M871 1005.5V1061.7M867 1005.5h8M867 1061.7h8"/>
</g>
<g class="an" text-anchor="middle" dominant-baseline="central">
<text transform="translate(703.5,1158.6) rotate(-90)" style="font-size:16px">**</text>
<text transform="translate(751,976) rotate(-90)">N.S.</text>
<text transform="translate(775.5,974) rotate(-90)">N.S.</text>
<text transform="translate(798.5,974) rotate(-90)">N.S.</text>
<text transform="translate(823.5,938.5) rotate(-90)">N.S.</text>
<text transform="translate(847,936) rotate(-90)">N.S.</text>
<text transform="translate(871,976) rotate(-90)">N.S.</text>
</g>
<text transform="translate(634,1063) rotate(-90)" class="st" text-anchor="middle">UBE1L  (ratio)</text>

<g class="tk" text-anchor="end">
<text x="99" y="1241">1.2</text><text x="99" y="1279">1</text><text x="99" y="1316">0.8</text><text x="99" y="1354">0.6</text><text x="99" y="1391">0.4</text><text x="99" y="1429">0.2</text><text x="99" y="1466">0</text>
</g>
<g class="ax">
<line x1="110" y1="1235.6" x2="110" y2="1460.2"/><line x1="110" y1="1460.2" x2="304" y2="1460.2"/>
<line x1="105" y1="1235.6" x2="110" y2="1235.6"/><line x1="105" y1="1273" x2="110" y2="1273"/><line x1="105" y1="1310.4" x2="110" y2="1310.4"/><line x1="105" y1="1347.9" x2="110" y2="1347.9"/><line x1="105" y1="1385.3" x2="110" y2="1385.3"/><line x1="105" y1="1422.8" x2="110" y2="1422.8"/>
</g>
<g class="bB">
<rect x="111.5" y="1426.5" width="15" height="33.7"/>
<rect x="136.5" y="1273" width="15" height="187.2"/>
<rect x="163.5" y="1276.7" width="15" height="183.5"/>
<rect x="188.5" y="1306.7" width="15" height="153.5"/>
<rect x="211" y="1310.4" width="15" height="149.8"/>
<rect x="235.5" y="1303" width="15" height="157.2"/>
<rect x="258" y="1306.7" width="15" height="153.5"/>
<rect x="283" y="1342.3" width="15" height="117.9"/>
</g>
<g class="eb">
<path d="M119 1402.2V1450.8M115 1402.2h8M115 1450.8h8"/>
<path d="M171 1265.5V1288M167 1265.5h8M167 1288h8"/>
<path d="M196 1291.7V1321.7M192 1291.7h8M192 1321.7h8"/>
<path d="M218.5 1293.6V1327.3M214.5 1293.6h8M214.5 1327.3h8"/>
<path d="M243 1273V1332.9M239 1273h8M239 1332.9h8"/>
<path d="M265.5 1293.6V1319.8M261.5 1293.6h8M261.5 1319.8h8"/>
<path d="M290.5 1325.4V1359.1M286.5 1325.4h8M286.5 1359.1h8"/>
</g>
<g class="an" text-anchor="middle" dominant-baseline="central">
<text transform="translate(119,1379) rotate(-90)" style="font-size:16px">**</text>
<text transform="translate(171,1229) rotate(-90)">N.S.</text>
<text transform="translate(196,1271) rotate(-90)" style="font-size:16px">*</text>
<text transform="translate(218.5,1271) rotate(-90)" style="font-size:16px">*</text>
<text transform="translate(243,1238) rotate(-90)">N.S.</text>
<text transform="translate(265.5,1268) rotate(-90)" style="font-size:16px">*</text>
<text transform="translate(290.5,1297) rotate(-90)" style="font-size:16px">**</text>
</g>
<text transform="translate(51,1348) rotate(-90)" class="st" text-anchor="middle">UBE2L6  (ratio)</text>

<g class="tk" text-anchor="end">
<text x="382" y="1241">5</text><text x="382" y="1286">4</text><text x="382" y="1331">3</text><text x="382" y="1376">2</text><text x="382" y="1420">1</text><text x="382" y="1465">0</text>
</g>
<g class="ax">
<line x1="393" y1="1235.6" x2="393" y2="1459.3"/><line x1="393" y1="1459.3" x2="588" y2="1459.3"/>
<line x1="388" y1="1235.6" x2="393" y2="1235.6"/><line x1="388" y1="1280.3" x2="393" y2="1280.3"/><line x1="388" y1="1325.1" x2="393" y2="1325.1"/><line x1="388" y1="1369.8" x2="393" y2="1369.8"/><line x1="388" y1="1414.6" x2="393" y2="1414.6"/>
</g>
<g class="bB">
<rect x="400" y="1457.1" width="15" height="2.2"/>
<rect x="423.5" y="1414.6" width="15" height="44.7"/>
<rect x="447.5" y="1420.8" width="15" height="38.5"/>
<rect x="472.5" y="1406.5" width="15" height="52.8"/>
<rect x="497.5" y="1385.5" width="15" height="73.8"/>
<rect x="522.5" y="1352.8" width="15" height="106.5"/>
<rect x="546.5" y="1360" width="15" height="99.3"/>
<rect x="570.5" y="1370.7" width="15" height="88.6"/>
</g>
<g class="eb">
<path d="M407.6 1453.9V1459M403.6 1453.9h8"/>
<path d="M455 1418.1V1423.5M451 1418.1h8M451 1423.5h8"/>
<path d="M480 1384.1V1428M476 1384.1h8M476 1428h8"/>
<path d="M505 1340.7V1430.2M501 1340.7h8M501 1430.2h8"/>
<path d="M530 1276.8V1428.9M526 1276.8h8M526 1428.9h8"/>
<path d="M554 1287.5V1432.5M550 1287.5h8M550 1432.5h8"/>
<path d="M578 1306.3V1434.7M574 1306.3h8M574 1434.7h8"/>
</g>
<g class="an" text-anchor="middle" dominant-baseline="central">
<text transform="translate(407.6,1429.4) rotate(-90)" style="font-size:16px">**</text>
<text transform="translate(455,1398.5) rotate(-90)" style="font-size:16px">*</text>
<text transform="translate(480,1350) rotate(-90)">N.S.</text>
<text transform="translate(505,1304) rotate(-90)">N.S.</text>
<text transform="translate(530,1244.4) rotate(-90)">N.S.</text>
<text transform="translate(554,1255.5) rotate(-90)">N.S.</text>
<text transform="translate(578,1264) rotate(-90)">N.S.</text>
</g>
<text transform="translate(333,1348) rotate(-90)" class="st" text-anchor="middle">Herc5 (ratio)</text>

<g class="tk" text-anchor="end">
<text x="676" y="1237">2.5</text><text x="676" y="1282">2</text><text x="676" y="1328">1.5</text><text x="676" y="1373">1</text><text x="676" y="1418">0.5</text><text x="676" y="1464">0</text>
</g>
<g class="ax">
<line x1="687" y1="1231.2" x2="687" y2="1458"/><line x1="687" y1="1458" x2="880" y2="1458"/>
<line x1="682" y1="1231.2" x2="687" y2="1231.2"/><line x1="682" y1="1276.6" x2="687" y2="1276.6"/><line x1="682" y1="1321.9" x2="687" y2="1321.9"/><line x1="682" y1="1367.3" x2="687" y2="1367.3"/><line x1="682" y1="1412.6" x2="687" y2="1412.6"/>
</g>
<g class="bB">
<rect x="696.5" y="1457.1" width="15" height="1.5"/>
<rect x="721" y="1367.3" width="15" height="90.7"/>
<rect x="743.5" y="1385.4" width="15" height="72.6"/>
<rect x="768" y="1392.7" width="15" height="65.3"/>
<rect x="791.5" y="1381.8" width="15" height="76.2"/>
<rect x="818.5" y="1348.2" width="15" height="109.8"/>
<rect x="842.5" y="1331" width="15" height="127"/>
<rect x="866.5" y="1385.4" width="15" height="72.6"/>
</g>
<g class="eb">
<path d="M751 1365.5V1405.4M747 1365.5h8M747 1405.4h8"/>
<path d="M775.7 1367.3V1418.1M771.7 1367.3h8M771.7 1418.1h8"/>
<path d="M799 1373.6V1390M795 1373.6h8M795 1390h8"/>
<path d="M826 1317.4V1378.2M822 1317.4h8M822 1378.2h8"/>
<path d="M850 1272.9V1389M846 1272.9h8M846 1389h8"/>
<path d="M874 1365.5V1405.4M870 1365.5h8M870 1405.4h8"/>
</g>
<g class="an" text-anchor="middle" dominant-baseline="central">
<text transform="translate(704,1427) rotate(-90)" style="font-size:16px">**</text>
<text transform="translate(751,1328) rotate(-90)">N.S.</text>
<text transform="translate(775.7,1339) rotate(-90)">N.S.</text>
<text transform="translate(799,1339) rotate(-90)">N.S.</text>
<text transform="translate(826,1282) rotate(-90)">N.S.</text>
<text transform="translate(850,1242) rotate(-90)">N.S.</text>
<text transform="translate(874,1328) rotate(-90)">N.S.</text>
</g>
<text transform="translate(634,1345) rotate(-90)" class="st" text-anchor="middle">USP18  (ratio)</text>

<text x="104" y="1502" class="st" text-anchor="end">IFN:</text>
<text x="104" y="1539" class="st" text-anchor="end">µM:</text>
<g style="font-size:22px" text-anchor="middle">
<text x="120" y="1503">–</text><text x="144" y="1503">+</text><text x="168" y="1503">+</text><text x="193" y="1503">+</text><text x="218" y="1503">+</text><text x="241" y="1503">+</text><text x="264" y="1503">+</text><text x="287" y="1503">+</text>
<text x="407" y="1503">–</text><text x="431" y="1503">+</text><text x="455" y="1503">+</text><text x="480" y="1503">+</text><text x="505" y="1503">+</text><text x="530" y="1503">+</text><text x="554" y="1503">+</text><text x="578" y="1503">+</text>
<text x="704" y="1503">–</text><text x="728" y="1503">+</text><text x="751" y="1503">+</text><text x="776" y="1503">+</text><text x="799" y="1503">+</text><text x="826" y="1503">+</text><text x="850" y="1503">+</text><text x="874" y="1503">+</text>
</g>
<g class="st" text-anchor="middle">
<text x="120" y="1535">–</text><text x="144" y="1535">–</text>
<text x="407" y="1535">–</text><text x="431" y="1535">–</text>
<text x="704" y="1535">–</text><text x="728" y="1535">–</text>
</g>
<g class="t" text-anchor="middle">
<text transform="translate(173,1528) rotate(-90)">100</text><text transform="translate(198,1528) rotate(-90)">200</text><text transform="translate(223,1528) rotate(-90)">400</text>
<text transform="translate(246,1528) rotate(-90)">100</text><text transform="translate(269,1528) rotate(-90)">200</text><text transform="translate(292,1528) rotate(-90)">400</text>
<text transform="translate(460,1528) rotate(-90)">100</text><text transform="translate(485,1528) rotate(-90)">200</text><text transform="translate(510,1528) rotate(-90)">400</text>
<text transform="translate(535,1528) rotate(-90)">100</text><text transform="translate(559,1528) rotate(-90)">200</text><text transform="translate(583,1528) rotate(-90)">400</text>
<text transform="translate(756,1528) rotate(-90)">100</text><text transform="translate(781,1528) rotate(-90)">200</text><text transform="translate(804,1528) rotate(-90)">400</text>
<text transform="translate(831,1528) rotate(-90)">100</text><text transform="translate(855,1528) rotate(-90)">200</text><text transform="translate(879,1528) rotate(-90)">400</text>
</g>
<g stroke="#000" stroke-width="1.4">
<line x1="161" y1="1552.6" x2="231" y2="1552.6"/><line x1="237" y1="1552.6" x2="304" y2="1552.6"/>
<line x1="445" y1="1552.6" x2="517" y2="1552.6"/><line x1="522" y1="1552.6" x2="588" y2="1552.6"/>
<line x1="740" y1="1552.6" x2="813" y2="1552.6"/><line x1="818" y1="1552.6" x2="884" y2="1552.6"/>
</g>
<g class="st" text-anchor="middle">
<text x="196" y="1573">SPM</text><text x="270" y="1573">SPD</text>
<text x="481" y="1573">SPM</text><text x="555" y="1573">SPD</text>
<text x="776" y="1573">SPM</text><text x="851" y="1573">SPD</text>
</g>
</svg>
</body></html>
